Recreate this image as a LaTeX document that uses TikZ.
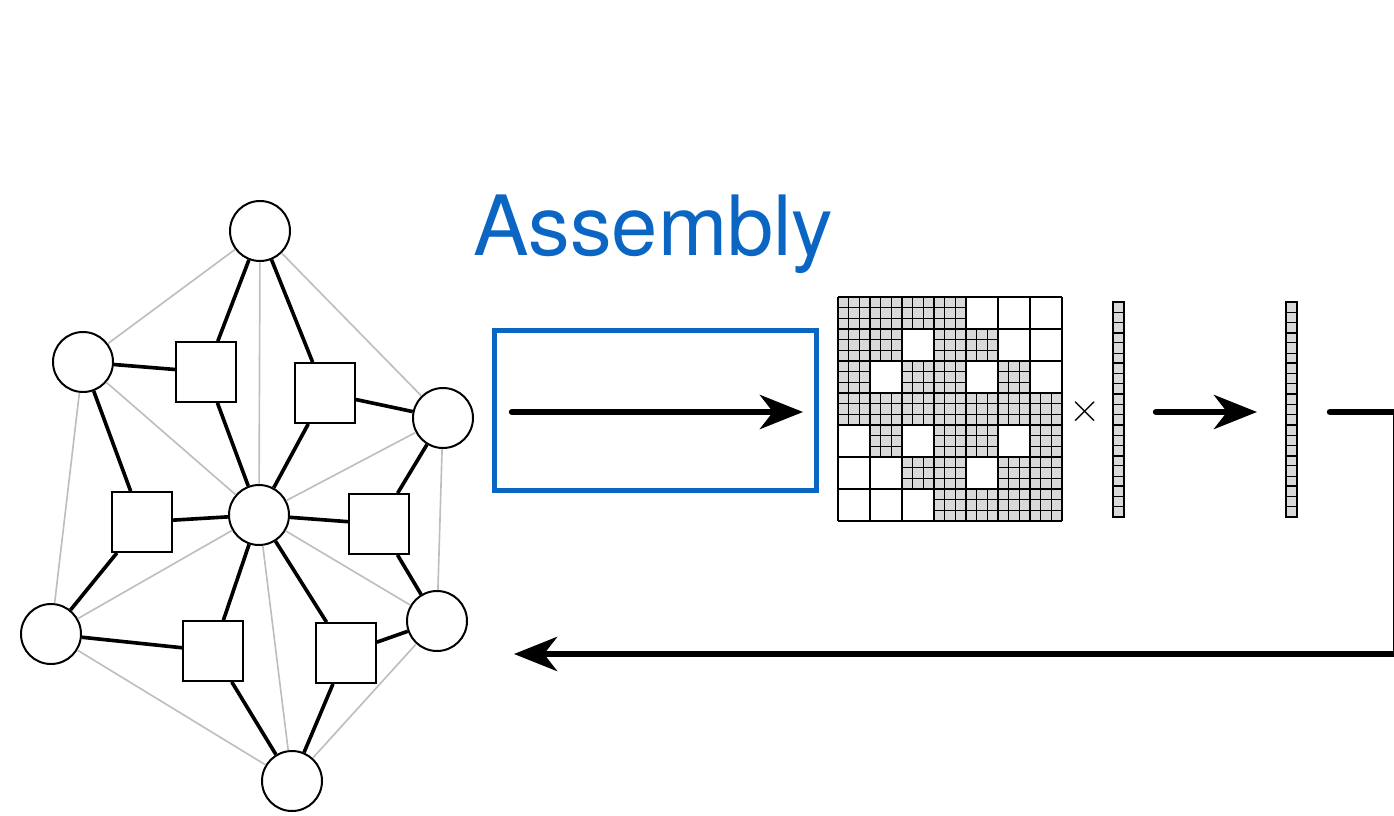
\documentclass[tikz,border=0pt]{standalone}
\usepackage{fontspec}
\newfontfamily\heros{TeX Gyre Heros}
\usetikzlibrary{arrows.meta}

\definecolor{asmblue}{RGB}{10,102,194}
\definecolor{edgegray}{RGB}{190,190,190}
\definecolor{cellgray}{RGB}{217,217,217}

\tikzset{
    dof/.style={circle, draw, line width=1.7pt, fill=white, minimum size=1.8cm, inner sep=0pt},
    elem/.style={rectangle, draw, line width=1.5pt, fill=white, minimum size=1.8cm, inner sep=0pt},
    conn/.style={line width=3.1pt},
    nbr/.style={edgegray, line width=1.4pt},
    bigarrow/.style={line width=5.5pt, line cap=round, -{Stealth[length=1.29cm, width=1.02cm, inset=0.39cm]}},
}

\begin{document}
\begin{tikzpicture}[x=0.03cm, y=-0.03cm]
    \useasboundingbox (0,0) rectangle (1394,816);

    % mesh
    \node[dof] (n1) at (260,231) {};
    \node[dof] (n2) at (83,362) {};
    \node[dof] (n3) at (443,418) {};
    \node[dof] (n4) at (259,515) {};
    \node[dof] (n5) at (51,634) {};
    \node[dof] (n6) at (437,621) {};
    \node[dof] (n7) at (292,781) {};

    \node[elem] (e1) at (206,372) {};
    \node[elem] (e2) at (325,393) {};
    \node[elem] (e3) at (142,522) {};
    \node[elem] (e4) at (379,524) {};
    \node[elem] (e5) at (213,651) {};
    \node[elem] (e6) at (346,653) {};

    \foreach \a/\b in {n1/n2, n1/n3, n1/n4, n2/n4, n2/n5, n3/n4, n3/n6, n5/n4, n5/n7, n6/n4, n6/n7, n7/n4}
        \draw[nbr] (\a) -- (\b);
    \foreach \a/\b in {n1/e1, n1/e2, n2/e1, n2/e3, n3/e2, n3/e4, n4/e1, n4/e2, n4/e3, n4/e4, n4/e5, n4/e6, n5/e3, n5/e5, n6/e4, n6/e6, n7/e5, n7/e6}
        \draw[conn] (\a) -- (\b);

    % assembly
    \node[asmblue, anchor=base west, inner sep=0pt, font=\heros\fontsize{71}{71}\selectfont] (title) at (473,255) {Assembly};
    \node[draw=asmblue, line width=4.3pt, minimum width=9.66cm, minimum height=4.8cm, inner sep=0pt] (asm) at (655.5,410.5) {};
    \coordinate (asmin) at (512,412);
    \coordinate (asmout) at (803,412);
    \draw[bigarrow] (asmin) -- (asmout);

    % matrix
    \begin{scope}[shift={(838,297)}]
        \foreach \r/\cols in {0/{0,1,2,3}, 1/{0,1,3,4}, 2/{0,2,3,5}, 3/{0,1,2,3,4,5,6}, 4/{1,3,4,6}, 5/{2,3,5,6}, 6/{3,4,5,6}}
            \foreach \c in \cols {
                \fill[cellgray] (32*\c,32*\r) rectangle ++(32,32);
                \foreach \k in {1,2} {
                    \draw[line width=0.7pt] (32*\c+32*\k/3,32*\r) -- ++(0,32);
                    \draw[line width=0.7pt] (32*\c,32*\r+32*\k/3) -- ++(32,0);
                }
            };
        \foreach \i in {0,...,7} {
            \draw[line width=1.6pt] (32*\i,0) -- (32*\i,224);
            \draw[line width=1.6pt] (0,32*\i) -- (224,32*\i);
        }
    \end{scope}
    \node[font=\fontsize{37}{37}\selectfont, inner sep=0pt] (times) at (1085,412) {×};

    % vectors
    \foreach \v/\x in {vecA/1113, vecB/1286} {
        \node[inner sep=0pt, minimum width=0.33cm, minimum height=6.45cm, anchor=north west] (\v) at (\x,302) {};
        \fill[cellgray] (\x,302) rectangle ++(11,215);
        \foreach \k in {1,...,20}
            \draw[line width=0.8pt] (\x,302+215*\k/21) -- ++(11,0);
        \foreach \k in {0,...,7}
            \draw[line width=1.6pt] (\x,302+215*\k/7) -- ++(11,0);
        \draw[line width=1.6pt] (\x,302) rectangle ++(11,215);
    }
    \coordinate (mulin) at (1156,412);
    \coordinate (mulout) at (1257,412);
    \draw[bigarrow] (mulin) -- (mulout);

    % back to mesh
    \coordinate (solout) at (1330,412);
    \coordinate (corner1) at (1396,412);
    \coordinate (corner2) at (1396,654);
    \coordinate (meshin) at (514,654);
    \draw[bigarrow] (solout) -- (corner1) -- (corner2) -- (meshin);
\end{tikzpicture}
\end{document}
